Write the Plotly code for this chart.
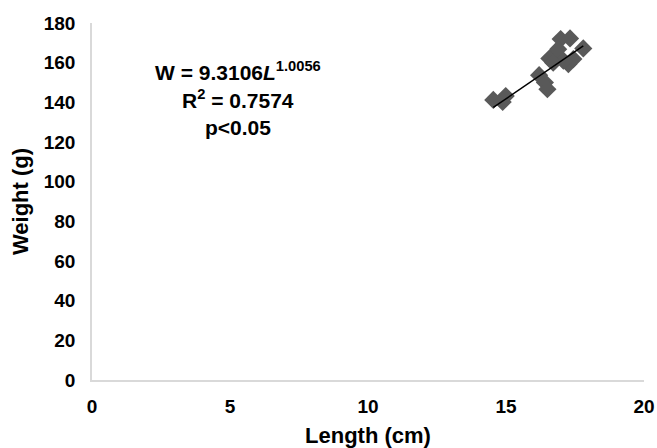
import plotly.graph_objects as go

# Data
length_cm = [14.54, 14.99, 14.88, 16.20, 16.41, 16.50, 16.57, 16.78, 16.98, 17.32,
             16.89, 17.26, 17.44, 17.80, 17.08, 16.71]
weight_g = [141.2, 143.2, 140.2, 153.7, 150.0, 146.6, 162.1, 164.3, 171.9, 172.2,
            166.8, 159.3, 161.8, 167.2, 161.0, 160.0]

# Fitted power model shown on the chart
coef_a = 9.3106
coef_b = 1.0056

x_ticks = [0, 5, 10, 15, 20]
y_ticks = [0, 20, 40, 60, 80, 100, 120, 140, 160, 180]

lo, hi = min(length_cm), max(length_cm)
n = 30
fit_x = [lo + (hi - lo) * i / (n - 1) for i in range(n)]
fit_y = [coef_a * v ** coef_b for v in fit_x]

FONT = "Liberation Sans, Arial, Helvetica, sans-serif"

fig = go.Figure()
fig.add_trace(go.Scatter(x=length_cm, y=weight_g, mode="markers",
                         marker=dict(symbol="diamond", size=14, color="#595959",
                                     line=dict(width=0)),
                         showlegend=False))
fig.add_trace(go.Scatter(x=fit_x, y=fit_y, mode="lines",
                         line=dict(color="black", width=1.5), showlegend=False))

fig.update_layout(
    width=657, height=448, autosize=False,
    margin=dict(l=92, r=13, t=23, b=68),
    plot_bgcolor="white", paper_bgcolor="white",
    font=dict(family=FONT, color="black"),
    xaxis=dict(range=[0, 20], tickvals=x_ticks, showgrid=False, zeroline=False,
               showline=True, linecolor="#d9d9d9", linewidth=1.5, ticks="",
               tickfont=dict(size=19, family=FONT, weight="bold"),
               ticklabelstandoff=8, automargin=False,
               title=dict(text="<b>Length (cm)</b>", font=dict(size=22), standoff=12)),
    yaxis=dict(range=[0, 180], tickvals=y_ticks, showgrid=False, zeroline=False,
               showline=True, linecolor="#d9d9d9", linewidth=1.5, ticks="",
               tickfont=dict(size=19, family=FONT, weight="bold"),
               ticklabelstandoff=11, automargin=False,
               title=dict(text="<b>Weight (g)</b>", font=dict(size=22), standoff=9)),
)

lines = ["<b>W = 9.3106<i>L</i><sup>1.0056</sup></b>",
         "<b>R<sup>2</sup> = 0.7574</b>",
         "<b>p&lt;0.05</b>"]
ys = [155.7, 141.6, 127.4]
for t, yv in zip(lines, ys):
    fig.add_annotation(x=5.29, y=yv, xref="x", yref="y", text=t, showarrow=False,
                       font=dict(size=21, family=FONT, color="black"),
                       xanchor="center", yanchor="middle")

fig.write_html(
    "out.html",
    config={"displayModeBar": False, "responsive": False},
    post_script=("document.body.style.margin='0';"
                 "document.body.style.overflow='hidden';"
                 "document.documentElement.style.overflow='hidden';"),
)
